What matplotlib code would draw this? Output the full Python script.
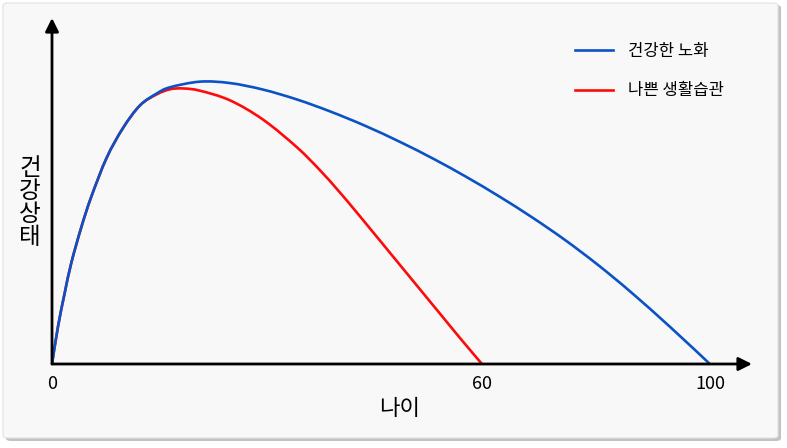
import matplotlib
matplotlib.use('Agg')
import matplotlib.pyplot as plt
from matplotlib.patches import FancyBboxPatch, PathPatch
from matplotlib.path import Path
from matplotlib.lines import Line2D

plt.rcParams['font.family'] = ['Noto Sans CJK KR', 'DejaVu Sans']

# x positions along the age axis (0 at origin, 100 at the "100" tick)
tick_pos = [0, 65.35, 100]
tick_labels = ['0', '60', '100']

healthy_x = [0, 0.91, 1.93, 2.93, 4.45, 5.97, 8.31, 10.79, 13.37, 15.91, 17.93,
             22.49, 27.05, 32.07, 37.23, 42.25, 47.5, 52.9, 58.0, 63.0,
             68.0, 73.0, 78.0, 83.0, 88.0, 94.0, 100]
healthy_y = [0, 13.2, 25.1, 35.7, 48.3, 59.1, 72.9, 83.4, 91.4, 95.6, 97.8,
             99.8, 99.3, 97.0, 93.5, 89.3, 84.3, 78.5, 72.5, 66.1,
             59.2, 51.8, 43.8, 35.0, 25.4, 13.0, 0]

bad_x = [0, 0.91, 1.93, 2.93, 4.45, 5.97, 8.31, 10.79, 13.37, 15.91, 17.93,
         19.91, 22.49, 27.05, 32.07, 37.23, 40.73, 43.77, 46.81, 52.89,
         58.97, 62.01, 65.35]
bad_y = [0, 13.2, 25.1, 35.7, 48.3, 59.1, 72.9, 83.4, 91.4, 95.3, 97.1,
         97.4, 96.6, 93.2, 86.4, 76.6, 68.5, 60.6, 52.2, 35.0,
         17.8, 9.2, 0]

series_names = ['건강한 노화', '나쁜 생활습관']
colors = ['#0b52c6', '#ff0a0a']


def smooth_path(xs, ys):
    # Catmull-Rom through the points, written as cubic Bezier segments
    pts = list(zip(xs, ys))
    verts = [pts[0]]
    codes = [Path.MOVETO]
    n = len(pts)
    for i in range(n - 1):
        p0 = pts[i - 1] if i > 0 else pts[i]
        p1 = pts[i]
        p2 = pts[i + 1]
        p3 = pts[i + 2] if i + 2 < n else pts[i + 1]
        c1 = (p1[0] + (p2[0] - p0[0]) / 6, p1[1] + (p2[1] - p0[1]) / 6)
        c2 = (p2[0] - (p3[0] - p1[0]) / 6, p2[1] - (p3[1] - p1[1]) / 6)
        verts += [c1, c2, p2]
        codes += [Path.CURVE4] * 3
    return Path(verts, codes)


W, H = 787, 448
fig = plt.figure(figsize=(W / 100, H / 100), dpi=100)
fig.patch.set_facecolor('white')

# panel with shadow
shadow = FancyBboxPatch((6 / W, 1 - 441 / H), 775 / W, 436 / H,
                        boxstyle='round,pad=0,rounding_size=0.006',
                        transform=fig.transFigure, facecolor='#9a9a9a',
                        edgecolor='none', alpha=0.6, zorder=-2)
panel = FancyBboxPatch((3 / W, 1 - 438 / H), 775 / W, 435 / H,
                       boxstyle='round,pad=0,rounding_size=0.006',
                       transform=fig.transFigure, facecolor='#f8f8f8',
                       edgecolor='#e2e2e2', lw=0.8, zorder=-1)
fig.patches.extend([shadow, panel])

ax = fig.add_axes([52 / W, (H - 364) / H, 700 / W, 346 / H])
ax.set_zorder(1)
ax.set_facecolor('none')
ax.set_xlim(0, 106.4)
ax.set_ylim(0, 122.3)
for s in ax.spines.values():
    s.set_visible(False)

ax.add_patch(PathPatch(smooth_path(healthy_x, healthy_y), facecolor='none',
                       edgecolor=colors[0], lw=1.9, zorder=3))
ax.add_patch(PathPatch(smooth_path(bad_x, bad_y), facecolor='none',
                       edgecolor=colors[1], lw=1.9, zorder=2))

# axes arrows
arrow = dict(arrowstyle='-|>', lw=2.0, color='black', mutation_scale=20,
             shrinkA=0, shrinkB=0)
ax.annotate('', xy=(1, 0), xytext=(0, 0), xycoords='axes fraction', arrowprops=arrow)
ax.annotate('', xy=(0, 1), xytext=(0, 0), xycoords='axes fraction', arrowprops=arrow)

ax.set_xticks(tick_pos, tick_labels, fontsize=13)
ax.tick_params(axis='x', length=0, pad=8)
ax.set_yticks([])

fig.text(400 / W, 1 - 408 / H, '나이', fontsize=16, ha='center', va='center')
fig.text(30 / W, 1 - 203 / H, '건\n강\n상\n태', fontsize=17, ha='center', va='center',
         linespacing=1.0)

handles = [Line2D([], [], color=c, lw=1.9) for c in colors]
fig.legend(handles, series_names, loc='upper left',
           bbox_to_anchor=(575 / W, 1 - 43 / H), frameon=False, fontsize=12,
           handlelength=2.3, handletextpad=0.85, labelspacing=1.35,
           borderpad=0, borderaxespad=0)

fig.savefig('out.png', dpi=100)
